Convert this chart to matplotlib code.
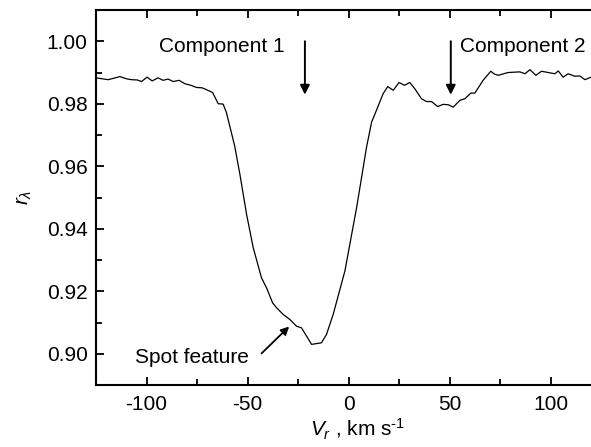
import matplotlib
matplotlib.use("Agg")
import matplotlib.pyplot as plt
from matplotlib.ticker import MultipleLocator

plt.rcParams['font.family'] = ['Liberation Sans', 'DejaVu Sans']
plt.rcParams['mathtext.fontset'] = 'custom'
plt.rcParams['mathtext.rm'] = 'Liberation Sans'
plt.rcParams['mathtext.it'] = 'Liberation Sans:italic'
plt.rcParams['axes.unicode_minus'] = False

# radial velocity (km/s) and residual intensity
vr = [-125, -122, -119, -116, -113.2, -110, -107.4, -104.5, -102.5, -99.7,
      -97.2, -94.3, -91.8, -89.3, -86.8, -83.9, -81, -78, -75.2, -72.5,
      -70.3, -67.3, -64.5, -62.1, -60.5, -56.4, -53.8, -50.5, -47.2, -43.1,
      -40.6, -37.6, -35.6, -32.4, -29.1, -25.7, -23.3, -18.3, -13.4, -10.9,
      -7.6, -1.8, 4.0, 8.9, 11.4, 13.8, 17.1, 19.4, 22.1, 25.0,
      27.7, 30.3, 32.8, 36.1, 38.6, 41.1, 44.1, 46.8, 49.3, 51.8,
      55.1, 57.6, 60.5, 62.5, 66.6, 70.4, 72.2, 74.1, 79.0, 84.8,
      87.3, 89.8, 92.7, 95.5, 98.8, 102.1, 103.8, 106.2, 108.7, 112,
      114.5, 117, 120]
r_lambda = [0.9883, 0.9880, 0.9877, 0.9882, 0.9887, 0.9880, 0.9877, 0.9876, 0.9871, 0.9885,
            0.9873, 0.9883, 0.9875, 0.9879, 0.9871, 0.9875, 0.9864, 0.9859, 0.9852, 0.9851,
            0.9845, 0.9836, 0.9800, 0.9799, 0.9773, 0.9666, 0.9575, 0.9447, 0.9340, 0.9243,
            0.9211, 0.9163, 0.9147, 0.9126, 0.9110, 0.9088, 0.9083, 0.9030, 0.9035, 0.9062,
            0.9126, 0.9265, 0.9468, 0.9661, 0.9741, 0.9779, 0.9832, 0.9855, 0.9843, 0.9868,
            0.9859, 0.9868, 0.9848, 0.9816, 0.9807, 0.9807, 0.9791, 0.9798, 0.9797, 0.9789,
            0.9811, 0.9816, 0.9834, 0.9834, 0.9875, 0.9904, 0.9895, 0.9891, 0.9900, 0.9902,
            0.9896, 0.9909, 0.9891, 0.9904, 0.9900, 0.9896, 0.9905, 0.9885, 0.9896, 0.9888,
            0.9889, 0.9877, 0.9885]

comp_labels = ["Component 1", "Component 2"]
comp_vr = [-21.6, 50.6]

fig = plt.figure(figsize=(5.91, 4.47), dpi=100)
ax = fig.add_axes([96 / 591, 1 - 385 / 447, 1 - 96 / 591, 375 / 447])

ax.plot(vr, r_lambda, color='black', lw=0.9)

ax.set_xlim(-125, 120)
ax.set_ylim(0.89, 1.01)
ax.xaxis.set_major_locator(MultipleLocator(50))
ax.xaxis.set_minor_locator(MultipleLocator(25))
ax.yaxis.set_major_locator(MultipleLocator(0.02))
ax.yaxis.set_minor_locator(MultipleLocator(0.01))
ax.yaxis.set_major_formatter(plt.FormatStrFormatter('%.2f'))

ax.spines['right'].set_visible(False)
for s in ['left', 'top', 'bottom']:
    ax.spines[s].set_linewidth(1.5)
ax.tick_params(which='both', direction='in', top=True, right=False, width=1.3, labelsize=15)
ax.tick_params(which='major', length=6)
ax.tick_params(which='minor', length=4)
ax.tick_params(axis='x', pad=7)
ax.tick_params(axis='y', pad=6)

ax.set_xlabel(r'$V_r$ , km s$^{\text{-1}}$', fontsize=15)
ax.xaxis.set_label_coords(0.529, -0.085)
ax.set_ylabel(r'$r_\lambda$', fontsize=15)
ax.yaxis.set_label_coords(-0.125, 0.5)

# component markers
arrow_kw = dict(arrowstyle='-|>', color='black', lw=1.4, mutation_scale=14, shrinkA=0, shrinkB=0)
for v in comp_vr:
    ax.annotate('', xy=(v, 0.9829), xytext=(v, 1.0), arrowprops=arrow_kw)
ax.text(-62.9, 0.9982, comp_labels[0], fontsize=15, ha='center', va='center')
ax.text(86.3, 0.9982, comp_labels[1], fontsize=15, ha='center', va='center')

ax.text(-77.7, 0.8987, 'Spot feature', fontsize=15, ha='center', va='center')
ax.annotate('', xy=(-29.4, 0.9087), xytext=(-43.1, 0.9001),
            arrowprops=dict(arrowstyle='-|>', color='black', lw=1.3, mutation_scale=12,
                            shrinkA=0, shrinkB=0))

fig.savefig('out.png', dpi=100)
